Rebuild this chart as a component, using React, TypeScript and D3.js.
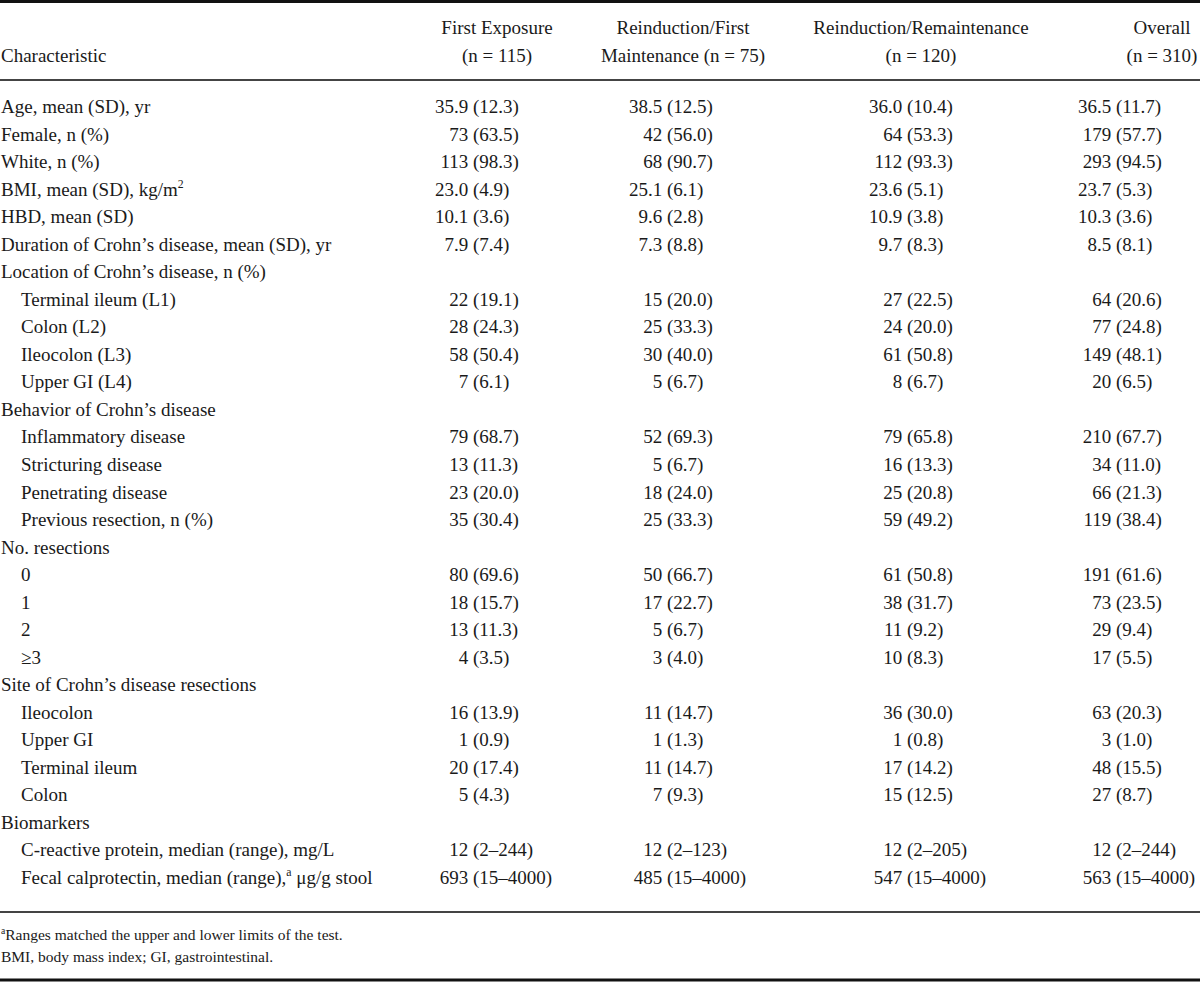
import React from "react";
import * as d3 from "d3";

const characteristics = [
  "Age, mean (SD), yr",
  "Female, n (%)",
  "White, n (%)",
  "BMI, mean (SD), kg/m^2",
  "HBD, mean (SD)",
  "Duration of Crohn’s disease, mean (SD), yr",
  "Location of Crohn’s disease, n (%)",
  "Terminal ileum (L1)",
  "Colon (L2)",
  "Ileocolon (L3)",
  "Upper GI (L4)",
  "Behavior of Crohn’s disease",
  "Inflammatory disease",
  "Stricturing disease",
  "Penetrating disease",
  "Previous resection, n (%)",
  "No. resections",
  "0",
  "1",
  "2",
  "≥3",
  "Site of Crohn’s disease resections",
  "Ileocolon",
  "Upper GI",
  "Terminal ileum",
  "Colon",
  "Biomarkers",
  "C-reactive protein, median (range), mg/L",
  "Fecal calprotectin, median (range),^a μg/g stool",
];

const indentLevels = [0, 0, 0, 0, 0, 0, 0, 1, 1, 1, 1, 0, 1, 1, 1, 1, 0, 1, 1, 1, 1, 0, 1, 1, 1, 1, 0, 1, 1];

const firstExposure = [
  "35.9 (12.3)", "73 (63.5)", "113 (98.3)", "23.0 (4.9)", "10.1 (3.6)", "7.9 (7.4)", "",
  "22 (19.1)", "28 (24.3)", "58 (50.4)", "7 (6.1)", "",
  "79 (68.7)", "13 (11.3)", "23 (20.0)", "35 (30.4)", "",
  "80 (69.6)", "18 (15.7)", "13 (11.3)", "4 (3.5)", "",
  "16 (13.9)", "1 (0.9)", "20 (17.4)", "5 (4.3)", "",
  "12 (2–244)", "693 (15–4000)",
];

const reinductionFirstMaintenance = [
  "38.5 (12.5)", "42 (56.0)", "68 (90.7)", "25.1 (6.1)", "9.6 (2.8)", "7.3 (8.8)", "",
  "15 (20.0)", "25 (33.3)", "30 (40.0)", "5 (6.7)", "",
  "52 (69.3)", "5 (6.7)", "18 (24.0)", "25 (33.3)", "",
  "50 (66.7)", "17 (22.7)", "5 (6.7)", "3 (4.0)", "",
  "11 (14.7)", "1 (1.3)", "11 (14.7)", "7 (9.3)", "",
  "12 (2–123)", "485 (15–4000)",
];

const reinductionRemaintenance = [
  "36.0 (10.4)", "64 (53.3)", "112 (93.3)", "23.6 (5.1)", "10.9 (3.8)", "9.7 (8.3)", "",
  "27 (22.5)", "24 (20.0)", "61 (50.8)", "8 (6.7)", "",
  "79 (65.8)", "16 (13.3)", "25 (20.8)", "59 (49.2)", "",
  "61 (50.8)", "38 (31.7)", "11 (9.2)", "10 (8.3)", "",
  "36 (30.0)", "1 (0.8)", "17 (14.2)", "15 (12.5)", "",
  "12 (2–205)", "547 (15–4000)",
];

const overall = [
  "36.5 (11.7)", "179 (57.7)", "293 (94.5)", "23.7 (5.3)", "10.3 (3.6)", "8.5 (8.1)", "",
  "64 (20.6)", "77 (24.8)", "149 (48.1)", "20 (6.5)", "",
  "210 (67.7)", "34 (11.0)", "66 (21.3)", "119 (38.4)", "",
  "191 (61.6)", "73 (23.5)", "29 (9.4)", "17 (5.5)", "",
  "63 (20.3)", "3 (1.0)", "48 (15.5)", "27 (8.7)", "",
  "12 (2–244)", "563 (15–4000)",
];

const headerLine1 = ["First Exposure", "Reinduction/First", "Reinduction/Remaintenance", "Overall"];
const headerLine2 = ["(n = 115)", "Maintenance (n = 75)", "(n = 120)", "(n = 310)"];
const firstHeader = "Characteristic";

const footnotes = [
  "^aRanges matched the upper and lower limits of the test.",
  "BMI, body mass index; GI, gastrointestinal.",
];

const W = 1200;
const H = 982;
const FONT = "'Liberation Serif', 'Times New Roman', serif";
const FS = 19;
const FS_NOTE = 15.5;
const INK = "#1a1a1a";

function RichText({ text, x, y, fs, anchor = "start" }: { text: string; x: number; y: number; fs: number; anchor?: string }) {
  const parts = text.split(/\^(\w)/);
  return (
    <text x={x} y={y} fontSize={fs} textAnchor={anchor} fill={INK} fontFamily={FONT}>
      {parts.map((p, i) =>
        i % 2 === 1 ? (
          <tspan key={i} fontSize={fs * 0.62} dy={-fs * 0.4}>{p}</tspan>
        ) : (
          <tspan key={i} dy={i > 0 ? fs * 0.4 : 0}>{p}</tspan>
        )
      )}
    </text>
  );
}

export default function App() {
  const columns = [firstExposure, reinductionFirstMaintenance, reinductionRemaintenance, overall];
  const y = d3.scalePoint<number>().domain(d3.range(characteristics.length)).range([113, 884]);
  // paren alignment positions for each value column
  const parenX = d3.scaleOrdinal<number, number>().domain([0, 1, 2, 3]).range([473, 667, 907, 1116]);
  const headerX = d3.scaleOrdinal<number, number>().domain([0, 1, 2, 3]).range([497, 683, 921, 1162]);
  const indentX = d3.scaleOrdinal<number, number>().domain([0, 1]).range([1, 21]);
  const space = FS * 0.25;

  return (
    <div style={{ position: "absolute", left: 0, top: 0, width: W, height: H, background: "#fff" }}>
      <svg width={W} height={H} viewBox={`0 0 ${W} ${H}`} style={{ display: "block" }}>
        <rect x={0} y={0} width={W} height={H} fill="#fff" />
        {/* rules */}
        <line x1={0} x2={W} y1={1.5} y2={1.5} stroke="#111" strokeWidth={3} />
        <line x1={0} x2={W} y1={80} y2={80} stroke="#444" strokeWidth={2} />
        <line x1={0} x2={W} y1={912} y2={912} stroke="#444" strokeWidth={2} />
        <line x1={0} x2={W} y1={980} y2={980} stroke="#111" strokeWidth={3} />

        {/* header */}
        <text x={1} y={62} fontSize={FS} fill={INK} fontFamily={FONT}>{firstHeader}</text>
        {headerLine1.map((h, i) => (
          <text key={"h1" + i} x={headerX(i)} y={34} fontSize={FS} textAnchor="middle" fill={INK} fontFamily={FONT}>{h}</text>
        ))}
        {headerLine2.map((h, i) => (
          <text key={"h2" + i} x={headerX(i)} y={62} fontSize={FS} textAnchor="middle" fill={INK} fontFamily={FONT}>{h}</text>
        ))}

        {/* rows */}
        {characteristics.map((c, r) => (
          <RichText key={"l" + r} text={c} x={indentX(indentLevels[r])} y={y(r)!} fs={FS} />
        ))}
        {columns.map((col, ci) =>
          col.map((v, r) => {
            if (!v) return null;
            const k = v.indexOf(" (");
            const head = v.slice(0, k);
            const tail = v.slice(k + 1);
            return (
              <g key={ci + "-" + r}>
                <text x={parenX(ci) - space} y={y(r)!} fontSize={FS} textAnchor="end" fill={INK} fontFamily={FONT}>{head}</text>
                <text x={parenX(ci)} y={y(r)!} fontSize={FS} fill={INK} fontFamily={FONT}>{tail}</text>
              </g>
            );
          })
        )}

        {/* footnotes */}
        {footnotes.map((f, i) => (
          <RichText key={"f" + i} text={f} x={1} y={940 + i * 22} fs={FS_NOTE} />
        ))}
      </svg>
    </div>
  );
}
